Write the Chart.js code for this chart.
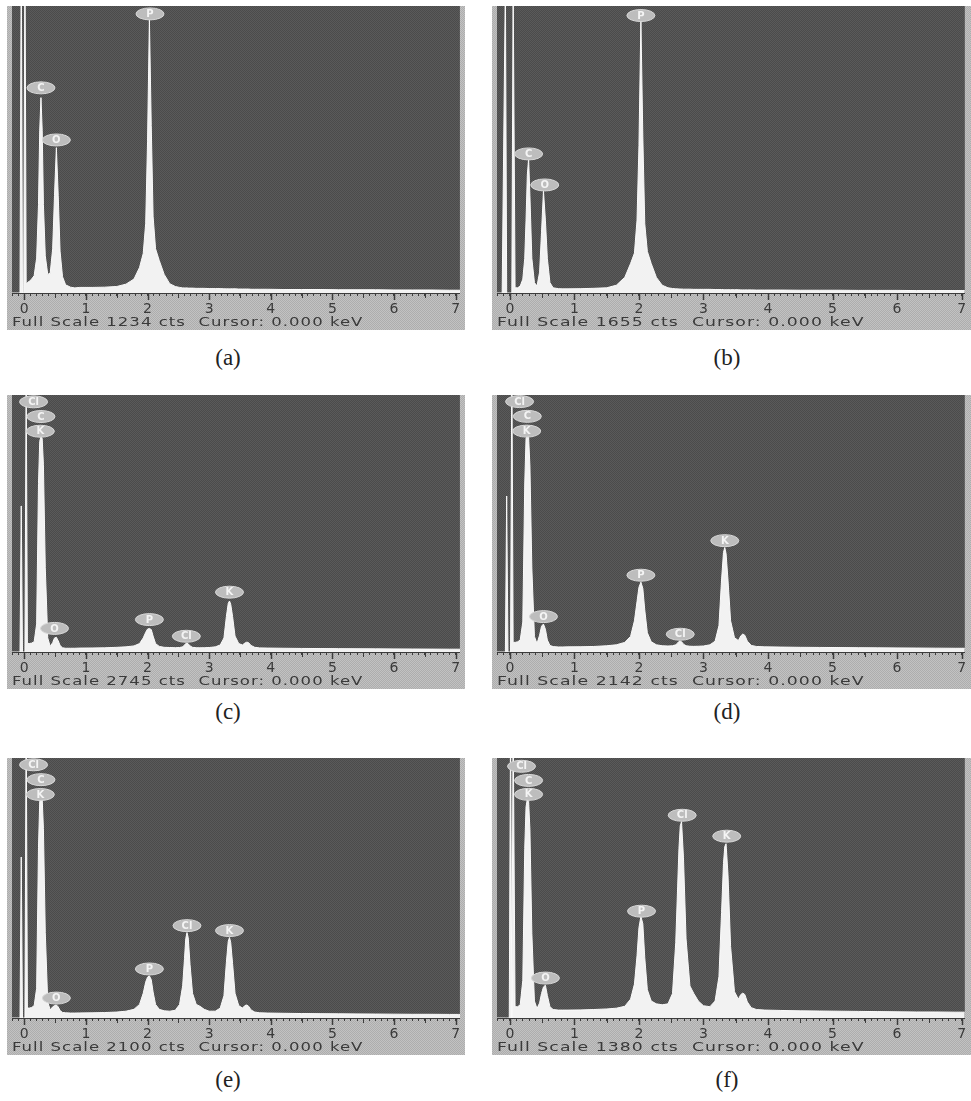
<!DOCTYPE html>
<html>
<head>
<meta charset="utf-8">
<script src="https://cdn.jsdelivr.net/npm/chart.js@4.4.1/dist/chart.umd.min.js"></script>
<style>
  body { margin: 0; background: #fff; }
  #page { position: relative; width: 971px; height: 1101px; overflow: hidden; }
  .panel { position: absolute; }
  .cap { position: absolute; font-family: 'Liberation Serif', 'Times New Roman', serif; font-size: 23px; color: #222; transform: translate(-50%, -50%); white-space: nowrap; }
</style>
</head>
<body>
<div id="page"></div>
<script>
// energy axis (keV), shared by all six spectra
const energy = [
  -0.2, -0.12, -0.07, -0.05, -0.03, -0.01, 0.01, 0.03, 0.05, 0.08,
  0.12, 0.16, 0.2, 0.23, 0.25, 0.27, 0.29, 0.31, 0.34, 0.38,
  0.42, 0.46, 0.49, 0.52, 0.55, 0.58, 0.62, 0.67, 0.75, 0.82,
  0.9, 1.1, 1.3, 1.5, 1.65, 1.78, 1.87, 1.93, 1.97, 2.0,
  2.03, 2.06, 2.09, 2.13, 2.19, 2.27, 2.36, 2.45, 2.52, 2.57,
  2.6, 2.62, 2.64, 2.66, 2.69, 2.73, 2.79, 2.85, 2.92, 3.0,
  3.1, 3.18, 3.24, 3.28, 3.31, 3.33, 3.35, 3.38, 3.42, 3.48,
  3.54, 3.58, 3.61, 3.64, 3.68, 3.74, 3.82, 3.95, 4.2, 4.5,
  4.8, 5.1, 5.4, 5.7, 6.0, 6.3, 6.6, 6.9, 7.05, 7.2
];

// counts (cts)
const countsA = [
  0, 0, 0, 1500, 0, 0, 1500, 40, 45, 50,
  60, 75, 150, 380, 700, 840, 700, 380, 160, 80,
  85, 190, 420, 625, 420, 180, 70, 35, 25, 22,
  24, 24, 25, 28, 38, 60, 110, 170, 300, 650,
  1180, 720, 330, 190, 140, 80, 40, 28, 24, 22,
  22, 22, 22, 21, 21, 21, 20, 20, 20, 19,
  19, 19, 18, 18, 18, 18, 18, 18, 18, 17,
  17, 17, 17, 17, 16, 16, 16, 16, 15, 15,
  15, 14, 14, 14, 13, 13, 13, 12, 12, 12
];
const countsB = [
  0, 0, 1800, 0, 0, 0, 0, 0, 1800, 30,
  30, 40, 80, 200, 420, 680, 775, 560, 200, 60,
  40, 120, 350, 589, 420, 200, 60, 30, 25, 24,
  24, 25, 27, 30, 45, 90, 170, 230, 420, 850,
  1573, 900, 400, 240, 170, 90, 45, 30, 26, 24,
  24, 23, 23, 23, 22, 22, 22, 21, 21, 21,
  21, 20, 20, 20, 20, 19, 19, 19, 19, 19,
  19, 18, 18, 18, 18, 18, 17, 17, 17, 16,
  16, 16, 15, 15, 15, 14, 14, 14, 14, 14
];
const countsC = [
  0, 0, 0, 1560, 0, 0, 0, 3000, 90, 90,
  95, 110, 300, 1800, 2250, 2305, 2280, 2000, 900, 150,
  60, 100, 150, 157, 120, 70, 45, 40, 40, 40,
  42, 43, 45, 50, 55, 65, 90, 150, 210, 245,
  251, 240, 170, 90, 60, 50, 48, 46, 48, 55,
  75, 90, 94, 88, 65, 50, 46, 45, 46, 48,
  55, 75, 150, 380, 520, 545, 510, 380, 170, 90,
  75, 95, 105, 100, 70, 50, 44, 42, 40, 38,
  37, 36, 35, 34, 33, 32, 31, 30, 30, 30
];
const countsD = [
  0, 0, 0, 1300, 0, 0, 0, 2500, 80, 80,
  85, 100, 250, 1400, 1780, 1810, 1790, 1550, 700, 130,
  70, 140, 215, 233, 190, 100, 55, 45, 42, 42,
  43, 44, 46, 52, 60, 80, 130, 260, 420, 540,
  582, 530, 350, 160, 85, 60, 52, 50, 52, 60,
  75, 88, 91, 86, 65, 52, 48, 47, 48, 50,
  60, 90, 220, 600, 830, 871, 820, 600, 260, 120,
  95, 135, 150, 140, 90, 55, 46, 43, 41, 39,
  38, 37, 36, 35, 34, 33, 32, 31, 31, 31
];
const countsE = [
  0, 0, 0, 1300, 0, 0, 0, 2500, 80, 80,
  85, 100, 240, 1380, 1750, 1785, 1770, 1530, 690, 130,
  65, 90, 100, 105, 90, 60, 45, 42, 40, 40,
  41, 42, 44, 48, 55, 70, 110, 200, 290, 330,
  340, 310, 210, 110, 70, 58, 55, 62, 110, 260,
  480, 640, 690, 650, 430, 200, 110, 95, 70, 55,
  55, 80, 180, 450, 620, 650, 610, 440, 200, 100,
  80, 100, 105, 95, 65, 48, 42, 40, 38, 36,
  35, 34, 33, 32, 31, 30, 30, 29, 29, 29
];
const countsF = [
  0, 0, 0, 0, 0, 0, 1600, 0, 1600, 60,
  60, 70, 200, 900, 1120, 1163, 1150, 1000, 450, 90,
  50, 80, 130, 165, 174, 120, 60, 45, 42, 42,
  42, 43, 45, 48, 52, 62, 100, 180, 330, 480,
  539, 500, 320, 150, 90, 75, 70, 75, 130, 400,
  700, 900, 1020, 1042, 850, 420, 170, 130, 90, 65,
  60, 90, 220, 560, 820, 910, 925, 760, 380, 140,
  100, 125, 132, 125, 85, 55, 45, 42, 40, 38,
  37, 36, 35, 34, 33, 32, 32, 31, 31, 31
];

const fullScale = [1234, 1655, 2745, 2142, 2100, 1380];
const captions = ['(a)', '(b)', '(c)', '(d)', '(e)', '(f)'];

// peak tags: [element, keV, cts]
const tagsA = [['P', 2.04, 1200], ['C', 0.27, 882], ['O', 0.52, 658]];
const tagsB = [['P', 2.03, 1600], ['C', 0.29, 802], ['O', 0.54, 623]];
const tagsC = [['Cl', 0.15, 2672], ['C', 0.27, 2515], ['K', 0.26, 2358], ['O', 0.49, 252], ['P', 2.03, 346], ['Cl', 2.63, 168], ['K', 3.33, 639]];
const tagsD = [['Cl', 0.15, 2087], ['C', 0.27, 1964], ['K', 0.26, 1841], ['O', 0.52, 295], ['P', 2.03, 640], ['Cl', 2.64, 148], ['K', 3.33, 928]];
const tagsE = [['Cl', 0.15, 2045], ['C', 0.27, 1925], ['K', 0.26, 1805], ['O', 0.52, 161], ['P', 2.03, 396], ['Cl', 2.64, 746], ['K', 3.33, 706]];
const tagsF = [['Cl', 0.18, 1336], ['C', 0.29, 1261], ['K', 0.29, 1187], ['O', 0.55, 212], ['P', 2.04, 567], ['Cl', 2.67, 1076], ['K', 3.36, 965]];

const counts = [countsA, countsB, countsC, countsD, countsE, countsF];
const tags = [tagsA, tagsB, tagsC, tagsD, tagsE, tagsF];

// layout of the 3x2 grid
const cols = [{ left: 7, width: 458, xMax: 7.07, capX: 228 }, { left: 492, width: 479, xMax: 7.05, capX: 727 }];
const rows = [{ top: 6, height: 324, capY: 358 }, { top: 395, height: 294, capY: 712 }, { top: 758, height: 297, capY: 1080 }];

function tile(a, b) {
  const c = document.createElement('canvas');
  c.width = 2; c.height = 2;
  const g = c.getContext('2d');
  g.fillStyle = a; g.fillRect(0, 0, 2, 2);
  g.fillStyle = b; g.fillRect(0, 0, 1, 1); g.fillRect(1, 1, 1, 1);
  return c;
}
const darkTile = tile('#4b4b4b', '#5a5a5a');
const stripTile = tile('#adadad', '#c2c2c2');

const bgPlugin = {
  id: 'panelBg',
  beforeDraw(chart) {
    const { ctx, chartArea: a, width, height } = chart;
    ctx.save();
    ctx.fillStyle = ctx.createPattern(stripTile, 'repeat');
    ctx.fillRect(0, 0, width, height);
    ctx.fillStyle = ctx.createPattern(darkTile, 'repeat');
    ctx.fillRect(a.left, a.top, a.right - a.left, a.bottom - a.top);
    ctx.restore();
  }
};

// ruler: longer marks at whole and half keV, then the analyser status line
const footerPlugin = {
  id: 'footer',
  afterDraw(chart, args, opts) {
    const { ctx, chartArea: a, height, scales } = chart;
    ctx.save();
    ctx.strokeStyle = '#3c3c3c';
    scales.x.ticks.forEach(t => {
      const whole = isMajor(t.value);
      const half = isMajor(t.value * 2);
      if (!whole && !half) return;
      const x = Math.round(scales.x.getPixelForValue(t.value)) + 0.5;
      ctx.lineWidth = whole ? 1.5 : 1;
      ctx.beginPath();
      ctx.moveTo(x, a.bottom);
      ctx.lineTo(x, a.bottom + (whole ? 7 : 5));
      ctx.stroke();
    });
    ctx.restore();

    ctx.save();
    ctx.translate(a.left, height - 7);
    ctx.scale(opts.stretch, 1);
    ctx.font = '13px "DejaVu Sans"';
    ctx.letterSpacing = '0.8px';
    ctx.fillStyle = '#3a3a3a';
    ctx.textAlign = 'left';
    ctx.textBaseline = 'middle';
    ctx.fillText(opts.text, 0, 0);
    ctx.restore();
  }
};

const tagPlugin = {
  id: 'peakTags',
  afterDatasetsDraw(chart, args, opts) {
    const { ctx, scales } = chart;
    ctx.save();
    (opts.items || []).forEach(([el, e, c]) => {
      const x = scales.x.getPixelForValue(e);
      const y = scales.y.getPixelForValue(c);
      ctx.beginPath();
      ctx.ellipse(x, y, 14, 6, 0, 0, Math.PI * 2);
      ctx.fillStyle = '#bdbdbd';
      ctx.fill();
      ctx.strokeStyle = '#d8d8d8';
      ctx.lineWidth = 1;
      ctx.stroke();
      ctx.fillStyle = '#f4f4f4';
      ctx.font = 'bold 10px "DejaVu Sans"';
      ctx.textAlign = 'center';
      ctx.textBaseline = 'middle';
      ctx.fillText(el, x, y + 0.5);
    });
    ctx.restore();
  }
};

const isMajor = v => Math.abs(v - Math.round(v)) < 1e-6;
const page = document.getElementById('page');

counts.forEach((series, i) => {
  const col = cols[i % 2];
  const row = rows[Math.floor(i / 2)];
  const fs = fullScale[i];

  const canvas = document.createElement('canvas');
  canvas.className = 'panel';
  canvas.width = col.width;
  canvas.height = row.height;
  canvas.style.left = col.left + 'px';
  canvas.style.top = row.top + 'px';
  page.appendChild(canvas);

  const cap = document.createElement('div');
  cap.className = 'cap';
  cap.textContent = captions[i];
  cap.style.left = col.capX + 'px';
  cap.style.top = row.capY + 'px';
  page.appendChild(cap);

  new Chart(canvas, {
    type: 'line',
    data: {
      datasets: [{
        data: energy.map((e, k) => ({ x: e, y: series[k] })),
        borderColor: '#fafafa',
        backgroundColor: '#f2f2f2',
        borderWidth: 1,
        fill: 'origin',
        pointRadius: 0,
        tension: 0
      }]
    },
    options: {
      responsive: false,
      animation: false,
      events: [],
      layout: { padding: 0 },
      plugins: {
        legend: { display: false },
        tooltip: { enabled: false },
        peakTags: { items: tags[i] },
        footer: { text: 'Full Scale ' + fs + ' cts  Cursor: 0.000 keV', stretch: 1.27 * col.width / 458 }
      },
      scales: {
        x: {
          type: 'linear',
          min: -0.2,
          max: col.xMax,
          afterFit: s => { s.height = 37; },
          border: { display: true, color: '#3c3c3c', width: 1 },
          grid: {
            drawOnChartArea: false,
            drawTicks: true,
            tickLength: 3,
            tickColor: '#3c3c3c',
            tickWidth: 1
          },
          ticks: {
            stepSize: 0.1,
            includeBounds: false,
            autoSkip: false,
            maxRotation: 0,
            maxTicksLimit: 200,
            padding: 5,
            color: '#3a3a3a',
            font: { family: 'DejaVu Sans', size: 14 },
            callback: v => isMajor(v) ? String(Math.round(v)) : ''
          }
        },
        y: { display: false, min: 0, max: fs }
      }
    },
    plugins: [bgPlugin, tagPlugin, footerPlugin]
  });
});
</script>
</body>
</html>
